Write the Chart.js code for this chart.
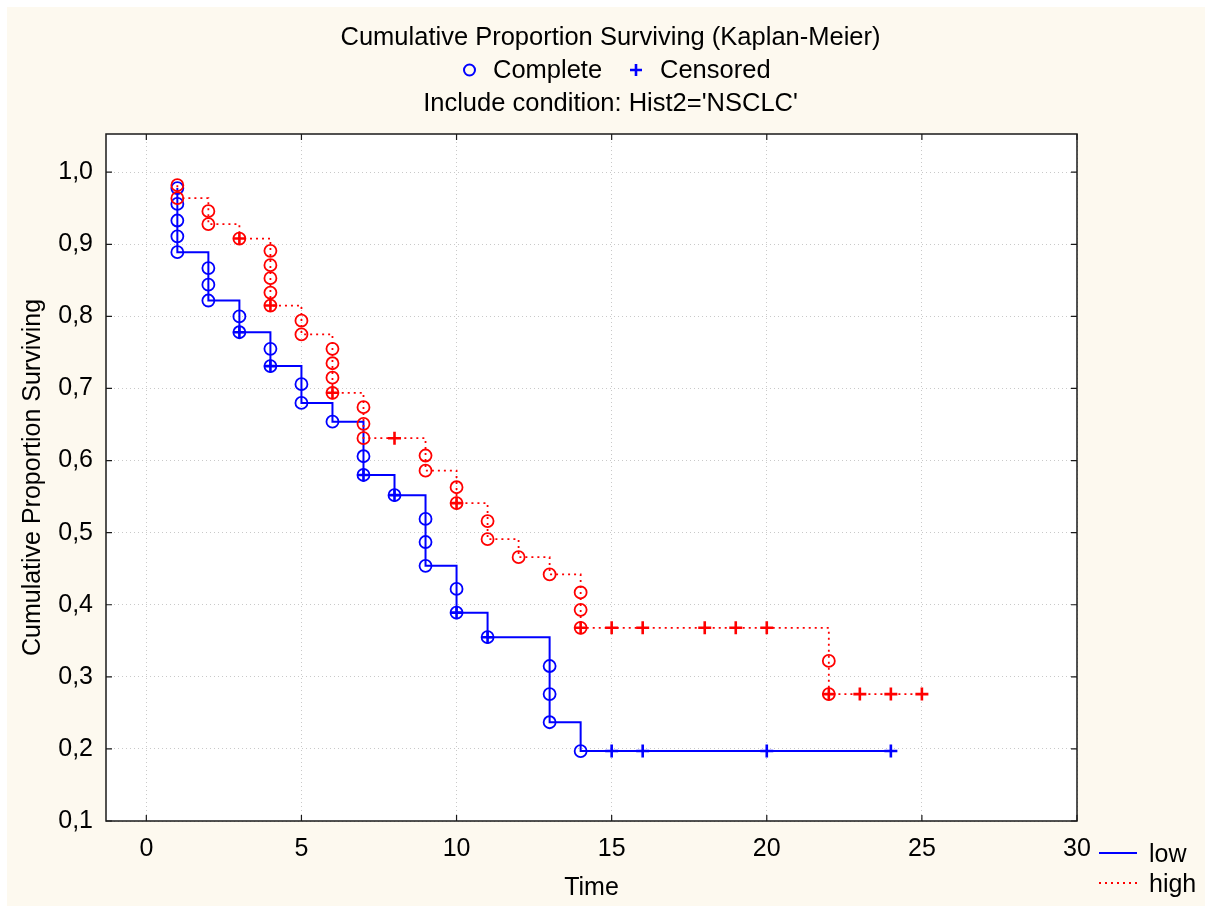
<!DOCTYPE html>
<html>
<head>
<meta charset="utf-8">
<script src="https://cdn.jsdelivr.net/npm/chart.js@4.4.1/dist/chart.umd.min.js"></script>
<style>
  html, body { margin: 0; padding: 0; background: #fff; }
  #wrap { width: 1206px; height: 907px; }
</style>
</head>
<body>
<div id="wrap"><canvas id="myChart" width="1206" height="907"></canvas></div>
<script>
const xTicks = [0, 5, 10, 15, 20, 25, 30];
const yTicks = [0.1, 0.2, 0.3, 0.4, 0.5, 0.6, 0.7, 0.8, 0.9, 1.0];

// group "low": complete (event) times and survival after each event
const lowEventTime = [1, 1, 1, 1, 1, 2, 2, 2, 3, 3, 4, 4, 5, 5, 6, 7, 7, 8, 9, 9, 9, 10, 10, 11, 13, 13, 13, 14];
const lowEventSurv = [0.978, 0.956, 0.933, 0.911, 0.889, 0.867, 0.844, 0.822, 0.800, 0.778, 0.755, 0.731, 0.706, 0.680, 0.654,
  0.606, 0.580, 0.552, 0.519, 0.487, 0.454, 0.422, 0.389, 0.355, 0.315, 0.276, 0.237, 0.197];
const lowCensTime = [3, 4, 7, 8, 10, 11, 15, 16, 20, 24];
const lowCensSurv = [0.778, 0.731, 0.580, 0.552, 0.389, 0.355, 0.197, 0.197, 0.197, 0.197];

// group "high"
const highEventTime = [1, 1, 2, 2, 3, 4, 4, 4, 4, 4, 5, 5, 6, 6, 6, 6, 7, 7, 7, 9, 9, 10, 10, 11, 11, 12, 13, 14, 14, 14, 22, 22];
const highEventSurv = [0.982, 0.964, 0.946, 0.928, 0.908, 0.891, 0.871, 0.853, 0.833, 0.815, 0.794, 0.775, 0.755, 0.735, 0.715, 0.694,
  0.674, 0.651, 0.631, 0.607, 0.586, 0.563, 0.541, 0.516, 0.491, 0.466, 0.442, 0.417, 0.393, 0.368, 0.322, 0.276];
const highCensTime = [3, 4, 6, 8, 10, 14, 15, 16, 18, 19, 20, 22, 23, 24, 25];
const highCensSurv = [0.908, 0.815, 0.694, 0.631, 0.541, 0.368, 0.368, 0.368, 0.368, 0.368, 0.368, 0.276, 0.276, 0.276, 0.276];

const BLUE = "#0000ff";
const RED = "#ff0000";
const FONT = "'Liberation Sans', Arial, sans-serif";

const toPoints = (xs, ys) => xs.map((x, i) => ({ x: x, y: ys[i] }));

// step line: every event, then held to the last censored time
const stepPoints = (et, es, ct, cs) => {
  const pts = toPoints(et, es);
  const lastC = ct.length - 1;
  if (ct[lastC] > et[et.length - 1]) pts.push({ x: ct[lastC], y: cs[lastC] });
  return pts;
};

const circleSet = (data, color) => ({
  data: data, showLine: false, pointStyle: "circle", pointRadius: 6, pointHoverRadius: 6,
  pointBorderColor: color, pointBackgroundColor: "rgba(0,0,0,0)", pointBorderWidth: 1.8
});
const crossSet = (data, color) => ({
  data: data, showLine: false, pointStyle: "cross", pointRadius: 6.5, pointHoverRadius: 6.5,
  pointBorderColor: color, pointBackgroundColor: color, pointBorderWidth: 2.6
});

const framePlugin = {
  id: "frame",
  beforeDraw(chart) {
    const { ctx, chartArea: a } = chart;
    ctx.save();
    ctx.fillStyle = "#ffffff";
    ctx.fillRect(0, 0, chart.width, chart.height);
    ctx.fillStyle = "#fdf9ef";
    ctx.fillRect(7, 7, chart.width - 8, chart.height - 8);
    ctx.fillStyle = "#ffffff";
    ctx.fillRect(a.left, a.top, a.right - a.left, a.bottom - a.top);
    ctx.restore();
  },
  afterDraw(chart) {
    const { ctx, chartArea: a, scales } = chart;
    ctx.save();
    ctx.strokeStyle = "#1a1a1a";
    ctx.lineWidth = 1.5;
    ctx.strokeRect(a.left, a.top, a.right - a.left, a.bottom - a.top);
    ctx.lineWidth = 1.2;
    ctx.beginPath();
    xTicks.forEach(v => {
      const px = scales.x.getPixelForValue(v);
      ctx.moveTo(px, a.bottom); ctx.lineTo(px, a.bottom - 6);
      ctx.moveTo(px, a.top); ctx.lineTo(px, a.top + 6);
    });
    yTicks.forEach(v => {
      const py = scales.y.getPixelForValue(v);
      ctx.moveTo(a.left, py); ctx.lineTo(a.left + 6, py);
      ctx.moveTo(a.right, py); ctx.lineTo(a.right - 6, py);
    });
    ctx.stroke();

    // header
    ctx.fillStyle = "#000";
    ctx.font = "25.5px " + FONT;
    ctx.textAlign = "center";
    ctx.textBaseline = "alphabetic";
    ctx.fillText("Cumulative Proportion Surviving (Kaplan-Meier)", 610.5, 45);
    ctx.fillText("Include condition: Hist2='NSCLC'", 610.5, 111);
    ctx.textAlign = "left";
    ctx.fillText("Complete", 493, 78);
    ctx.fillText("Censored", 660, 78);
    ctx.strokeStyle = BLUE;
    ctx.lineWidth = 2;
    ctx.beginPath();
    ctx.arc(469.5, 70, 5.5, 0, Math.PI * 2);
    ctx.stroke();
    ctx.lineWidth = 2.6;
    ctx.beginPath();
    ctx.moveTo(636 - 6, 70); ctx.lineTo(636 + 6, 70);
    ctx.moveTo(636, 64); ctx.lineTo(636, 76);
    ctx.stroke();

    // group legend
    ctx.lineWidth = 2;
    ctx.strokeStyle = BLUE;
    ctx.beginPath();
    ctx.moveTo(1099, 853); ctx.lineTo(1137, 853);
    ctx.stroke();
    ctx.strokeStyle = RED;
    ctx.setLineDash([2, 4]);
    ctx.beginPath();
    ctx.moveTo(1099, 883); ctx.lineTo(1137, 883);
    ctx.stroke();
    ctx.setLineDash([]);
    ctx.font = "25px " + FONT;
    ctx.fillText("low", 1149, 862);
    ctx.fillText("high", 1149, 892);
    ctx.restore();
  }
};

const ctx = document.getElementById("myChart").getContext("2d");
const myChart = new Chart(ctx, {
  type: "scatter",
  data: {
    datasets: [
      circleSet(toPoints(highEventTime, highEventSurv), RED),
      crossSet(toPoints(highCensTime, highCensSurv), RED),
      circleSet(toPoints(lowEventTime, lowEventSurv), BLUE),
      crossSet(toPoints(lowCensTime, lowCensSurv), BLUE),
      {
        data: stepPoints(highEventTime, highEventSurv, highCensTime, highCensSurv),
        showLine: true, stepped: "before", borderColor: RED, borderWidth: 1.8, borderDash: [2, 4],
        pointRadius: 0, pointHoverRadius: 0, fill: false
      },
      {
        data: stepPoints(lowEventTime, lowEventSurv, lowCensTime, lowCensSurv),
        showLine: true, stepped: "before", borderColor: BLUE, borderWidth: 2,
        pointRadius: 0, pointHoverRadius: 0, fill: false
      }
    ]
  },
  options: {
    responsive: false,
    animation: false,
    devicePixelRatio: 1,
    layout: { padding: { top: 134, right: 129, left: 0, bottom: 0 } },
    plugins: { legend: { display: false }, tooltip: { enabled: false } },
    scales: {
      x: {
        type: "linear", min: -1.3, max: 30,
        afterBuildTicks: (scale) => { scale.ticks = xTicks.map(v => ({ value: v })); },
        afterFit: (scale) => { scale.height = 86; },
        grid: { color: "#c9c9c9", lineWidth: 1, drawTicks: false },
        border: { display: false, dash: [1, 3] },
        ticks: { color: "#000", font: { family: FONT, size: 25 }, padding: 13, maxRotation: 0 },
        title: { display: true, text: "Time", color: "#000", font: { family: FONT, size: 25 }, padding: { top: 0, bottom: 4 } }
      },
      y: {
        type: "linear", min: 0.1, max: 1.053,
        afterBuildTicks: (scale) => { scale.ticks = yTicks.map(v => ({ value: v })); },
        afterFit: (scale) => { scale.width = 106; },
        grid: { color: "#c9c9c9", lineWidth: 1, drawTicks: false },
        border: { display: false, dash: [1, 3] },
        ticks: {
          color: "#000", font: { family: FONT, size: 25 }, padding: 13,
          callback: (v) => v.toFixed(1).replace(".", ",")
        },
        title: { display: true, text: "Cumulative Proportion Surviving", color: "#000", font: { family: FONT, size: 25 }, padding: { top: 18, bottom: 0 } }
      }
    }
  },
  plugins: [framePlugin]
});
</script>
</body>
</html>
